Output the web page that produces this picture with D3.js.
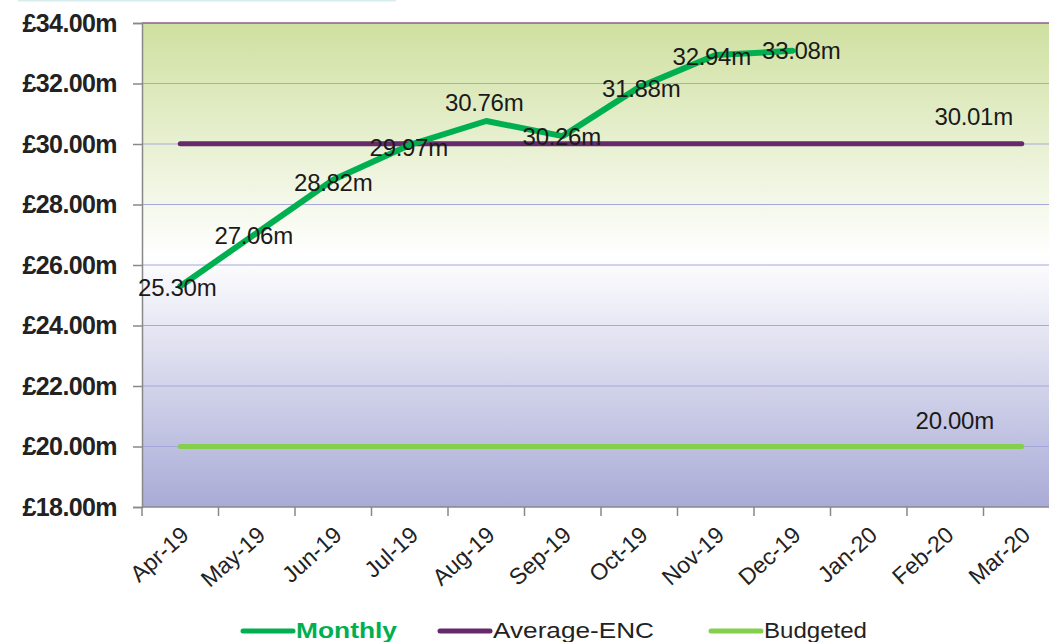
<!DOCTYPE html>
<html>
<head>
<meta charset="utf-8">
<script src="https://cdn.jsdelivr.net/npm/d3@7"></script>
<style>
  body { margin: 0; background: #fff; }
  svg { display: block; font-family: "Liberation Sans", Arial, sans-serif; }
</style>
</head>
<body>
<div id="chart"></div>
<script>
const months = ["Apr-19", "May-19", "Jun-19", "Jul-19", "Aug-19", "Sep-19",
                "Oct-19", "Nov-19", "Dec-19", "Jan-20", "Feb-20", "Mar-20"];
const monthly = [25.30, 27.06, 28.82, 29.97, 30.76, 30.26, 31.88, 32.94, 33.08];
const averageEnc = [30.01, 30.01, 30.01, 30.01, 30.01, 30.01, 30.01, 30.01, 30.01, 30.01, 30.01, 30.01];
const budgeted = [20.00, 20.00, 20.00, 20.00, 20.00, 20.00, 20.00, 20.00, 20.00, 20.00, 20.00, 20.00];
const yTicks = [18, 20, 22, 24, 26, 28, 30, 32, 34];

const green = "#00b050";
const purple = "#652a6c";
const lime = "#84d04c";

const width = 1049;
const height = 642;
const marginLeft = 142;
const marginTop = 23;
const plotBottom = 507;
const bandW = 76.5;

const x = d3.scaleBand()
  .domain(months)
  .range([marginLeft, marginLeft + bandW * months.length]);

const y = d3.scaleLinear()
  .domain([18, 34])
  .range([plotBottom, marginTop]);

const svg = d3.select("#chart").append("svg")
  .attr("width", width)
  .attr("height", height);

// background gradient
const defs = svg.append("defs");
const grad = defs.append("linearGradient")
  .attr("id", "bg").attr("x1", 0).attr("y1", 0).attr("x2", 0).attr("y2", 1);
grad.append("stop").attr("offset", "0%").attr("stop-color", "#cfe0a0");
grad.append("stop").attr("offset", "48%").attr("stop-color", "#ffffff");
grad.append("stop").attr("offset", "100%").attr("stop-color", "#a9abd7");

// faint line at very top
svg.append("line")
  .attr("x1", 18).attr("x2", 396).attr("y1", 0.5).attr("y2", 0.5)
  .attr("stroke", "#d8eeee").attr("stroke-width", 2);

svg.append("rect")
  .attr("x", marginLeft).attr("y", marginTop)
  .attr("width", x.range()[1] - marginLeft)
  .attr("height", plotBottom - marginTop)
  .attr("fill", "url(#bg)");

// gridlines
svg.append("g")
  .selectAll("line")
  .data(yTicks.filter(d => d > 18 && d < 34))
  .join("line")
  .attr("x1", marginLeft).attr("x2", width)
  .attr("y1", d => y(d)).attr("y2", d => y(d))
  .attr("stroke", "#a6a8dc").attr("stroke-width", 1.2);

// top border
svg.append("line")
  .attr("x1", marginLeft).attr("x2", width)
  .attr("y1", y(34)).attr("y2", y(34))
  .attr("stroke", "#8c5c8c").attr("stroke-width", 1.5);

// y axis
const yAxis = svg.append("g")
  .attr("transform", `translate(${marginLeft},0)`)
  .call(d3.axisLeft(y).tickValues(yTicks).tickSize(9).tickPadding(16)
    .tickFormat(d => "£" + d3.format(".2f")(d) + "m"));
yAxis.selectAll("path, line").attr("stroke", "#888").attr("stroke-width", 1.5);
yAxis.selectAll("text")
  .attr("fill", "#222")
  .style("font-size", "25px")
  .style("font-weight", "bold")
  .style("letter-spacing", "-0.6px");

// x axis
const xAxis = svg.append("g")
  .attr("transform", `translate(0,${plotBottom})`)
  .call(d3.axisBottom(x).tickSize(0).tickSizeOuter(0).tickPadding(0));
xAxis.select(".domain").attr("stroke", "#888").attr("stroke-width", 1.5)
  .attr("d", `M${marginLeft},0H${width}`);
xAxis.selectAll(".tick text")
  .attr("fill", "#222")
  .style("font-size", "23px")
  .attr("text-anchor", "end")
  .attr("dy", null)
  .attr("y", 0)
  .attr("transform", "translate(10,30) rotate(-42)");
// tick marks at category boundaries
svg.append("g")
  .selectAll("line")
  .data(months)
  .join("line")
  .attr("x1", d => x(d)).attr("x2", d => x(d))
  .attr("y1", plotBottom).attr("y2", plotBottom + 9)
  .attr("stroke", "#888").attr("stroke-width", 1.5);

const cx = i => x(months[i]) + x.bandwidth() / 2;
const line = d3.line().x((d, i) => cx(i)).y(d => y(d));

svg.append("path").datum(budgeted)
  .attr("d", line).attr("fill", "none")
  .attr("stroke", lime).attr("stroke-width", 5).attr("stroke-linecap", "round");
svg.append("path").datum(averageEnc)
  .attr("d", line).attr("fill", "none")
  .attr("stroke", purple).attr("stroke-width", 5).attr("stroke-linecap", "round");
svg.append("path").datum(monthly)
  .attr("d", line).attr("fill", "none")
  .attr("stroke", green).attr("stroke-width", 6)
  .attr("stroke-linecap", "round").attr("stroke-linejoin", "round");

// data labels (dx, dy offsets from the point)
const labelDx = [-3, -3, 0, -1, -2, -1, 2, -4, 9];
const labelDy = [10, 11, 11, 11, -10, 9, 10, 10, 8];
const labelStyle = s => s.attr("fill", "#1a1a1a").style("font-size", "24px")
  .style("letter-spacing", "-0.3px")
  .attr("text-anchor", "middle");

svg.append("g")
  .selectAll("text")
  .data(monthly)
  .join("text")
  .attr("x", (d, i) => cx(i) + labelDx[i])
  .attr("y", (d, i) => y(d) + labelDy[i])
  .call(labelStyle)
  .text(d => d3.format(".2f")(d) + "m");

const last = months.length - 1;
svg.append("text")
  .attr("x", cx(last) - 48).attr("y", y(averageEnc[last]) - 19)
  .call(labelStyle)
  .text(d3.format(".2f")(averageEnc[last]) + "m");
svg.append("text")
  .attr("x", cx(last) - 67).attr("y", y(budgeted[last]) - 18)
  .call(labelStyle)
  .text(d3.format(".2f")(budgeted[last]) + "m");

// legend
const legendItems = [
  { name: "Monthly", color: green, x: 240, w: 101, bold: true, textColor: green },
  { name: "Average-ENC", color: purple, x: 437, w: 161, bold: false, textColor: "#222" },
  { name: "Budgeted", color: lime, x: 708, w: 103, bold: false, textColor: "#222" }
];
const legend = svg.append("g").attr("transform", "translate(0,631)");
legendItems.forEach(it => {
  legend.append("line")
    .attr("x1", it.x + 3).attr("x2", it.x + 53)
    .attr("stroke", it.color).attr("stroke-width", 5).attr("stroke-linecap", "round");
  legend.append("text")
    .attr("x", it.x + 56).attr("y", 7)
    .attr("fill", it.textColor)
    .style("font-size", "22px")
    .style("font-weight", it.bold ? "bold" : "normal")
    .attr("textLength", it.w)
    .attr("lengthAdjust", "spacingAndGlyphs")
    .text(it.name);
});
</script>
</body>
</html>
